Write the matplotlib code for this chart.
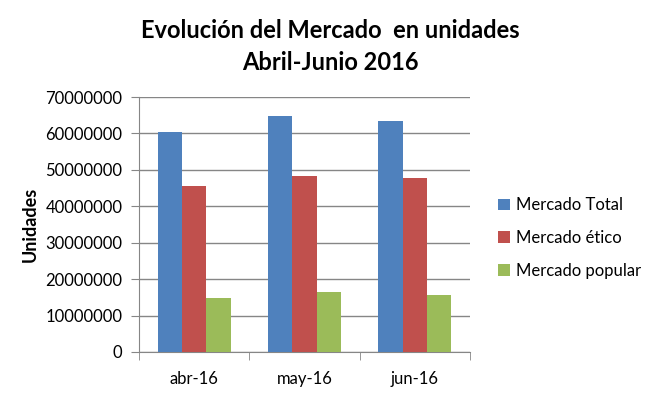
import matplotlib
matplotlib.use("Agg")
import matplotlib.pyplot as plt
import numpy as np

categories = ["abr-16", "may-16", "jun-16"]
series_names = ["Mercado Total", "Mercado ético", "Mercado popular"]
total = [60500000, 64900000, 63500000]
etico = [45700000, 48400000, 47900000]
popular = [14900000, 16600000, 15700000]
colors = ["#4F81BD", "#C0504D", "#9BBB59"]
yticks = [0, 10000000, 20000000, 30000000, 40000000, 50000000, 60000000, 70000000]

plt.rcParams['font.family'] = ['Lato', 'DejaVu Sans']

fig = plt.figure(figsize=(6.61, 3.94), dpi=100)
ax = fig.add_axes([139/661, 1-352/394, (470-139)/661, (352-97)/394])

x = np.arange(len(categories))
w = 0.22
for i, (vals, name, c) in enumerate(zip([total, etico, popular], series_names, colors)):
    ax.bar(x + (i-1)*w, vals, width=w, color=c, label=name, zorder=3)

ax.set_xlim(-0.5, len(categories)-0.5)
ax.set_ylim(0, 70000000)
ax.set_yticks(yticks)
ax.set_yticklabels([str(v) for v in yticks], fontsize=12)
ax.set_xticks(x)
ax.set_xticklabels(categories, fontsize=12)
ax.tick_params(axis='x', length=0, pad=14)
ax.set_xticks(np.arange(-0.5, len(categories), 1), minor=True)
ax.tick_params(axis='x', which='minor', length=6, color='#868686', direction='out')
ax.tick_params(axis='y', length=6, color='#868686', direction='out', pad=6)
ax.grid(axis='y', color='#868686', linewidth=1, zorder=0)
for s in ['top', 'right']:
    ax.spines[s].set_visible(False)
for s in ['left', 'bottom']:
    ax.spines[s].set_color('#868686')
ax.set_ylabel("Unidades", fontsize=13, fontweight='bold', labelpad=5)

fig.text(330/661, 1-30/394, "Evolución del Mercado  en unidades", ha='center', va='center',
         fontsize=17, fontweight='bold')
fig.text(330/661, 1-62/394, "Abril-Junio 2016", ha='center', va='center',
         fontsize=17, fontweight='bold')

ax.legend(loc='center left', bbox_to_anchor=(483/661, 1-238/394), bbox_transform=fig.transFigure,
          frameon=False, fontsize=12, handlelength=0.7, handleheight=0.7, labelspacing=1.0,
          handletextpad=0.4)

fig.savefig("out.png", dpi=100)
